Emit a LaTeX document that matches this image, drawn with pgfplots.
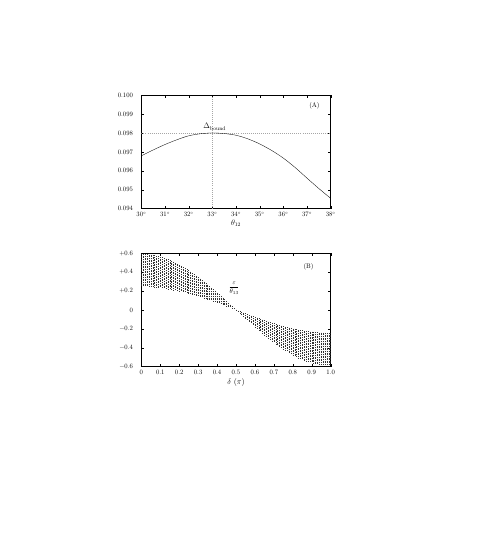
\documentclass[border=0pt]{standalone}
\usepackage{pgfplots}
\pgfplotsset{compat=1.18}
\begin{document}
\begin{tikzpicture}
\path[use as bounding box] (-212pt,142.8pt) rectangle (524.6pt,-674.7pt);
\pgfplotsset{every axis/.append style={scale only axis, width=284pt, height=170pt,
  tick align=inside, major tick length=4.5pt, axis line style={line width=0.5pt},
  every tick/.style={black, line width=0.4pt},
  yticklabel style={xshift=-9pt}, xticklabel style={yshift=-2pt},
  xlabel style={font=\large, yshift=2pt}}}
\begin{axis}[name=A, at={(0,0)}, anchor=north west,
  xmin=30, xmax=38, ymin=0.094, ymax=0.100,
  xtick={30,31,32,33,34,35,36,37,38},
  xticklabels={$30^\circ$,$31^\circ$,$32^\circ$,$33^\circ$,$34^\circ$,$35^\circ$,$36^\circ$,$37^\circ$,$38^\circ$},
  ytick={0.094,0.095,0.096,0.097,0.098,0.099,0.100},
  yticklabels={0.094,0.095,0.096,0.097,0.098,0.099,0.100},
  scaled y ticks=false,
  xlabel={$\theta_{12}$}]
\addplot[gray!70, line width=0.5pt, dash pattern=on 0.5pt off 2.6pt] coordinates {(33,0.094) (33,0.100)};
\addplot[gray!70, line width=0.5pt, dash pattern=on 0.5pt off 2.6pt] coordinates {(30,0.098) (38,0.098)};
\addplot[black, line width=0.5pt, smooth] coordinates {
(30.0,0.09679) (30.5,0.09710) (31.0,0.09739) (31.5,0.09764) (32.0,0.09785)
(32.5,0.09796) (33.0,0.09800) (33.5,0.09797) (34.0,0.09788) (34.5,0.09769)
(35.0,0.09742) (35.5,0.09708) (36.0,0.09667) (36.5,0.09617) (37.0,0.09561)
(37.5,0.09506) (38.0,0.09454)};
\node at (rel axis cs:0.914,0.905) {(A)};
\node[anchor=base, font=\large] at (axis cs:33.1,0.09822) {$\Delta_{\mathrm{bound}}$};
\end{axis}
\begin{axis}[name=B, at={(0,-237pt)}, anchor=north west,
  xmin=0, xmax=1, ymin=-0.6, ymax=0.6,
  xtick={0,0.1,0.2,0.3,0.4,0.5,0.6,0.7,0.8,0.9,1.0},
  xticklabels={0,0.1,0.2,0.3,0.4,0.5,0.6,0.7,0.8,0.9,1.0},
  ytick={-0.6,-0.4,-0.2,0,0.2,0.4,0.6},
  yticklabels={$-0.6$,$-0.4$,$-0.2$,$0$,$+0.2$,$+0.4$,$+0.6$},
  xlabel={$\delta\ (\pi)$}, unbounded coords=jump]
\addplot[black!80, line width=0.55pt, dash pattern=on 0.55pt off 1.9pt] table[row sep=\\] {
x y\\
0.00 0.590\\ 0.00 0.245\\ 0.00 nan\\
0.01 0.590\\ 0.01 0.245\\ 0.01 nan\\
0.02 0.589\\ 0.02 0.245\\ 0.02 nan\\
0.03 0.587\\ 0.03 0.244\\ 0.03 nan\\
0.04 0.585\\ 0.04 0.243\\ 0.04 nan\\
0.05 0.583\\ 0.05 0.242\\ 0.05 nan\\
0.06 0.580\\ 0.06 0.241\\ 0.06 nan\\
0.07 0.576\\ 0.07 0.239\\ 0.07 nan\\
0.08 0.571\\ 0.08 0.237\\ 0.08 nan\\
0.09 0.567\\ 0.09 0.235\\ 0.09 nan\\
0.10 0.561\\ 0.10 0.233\\ 0.10 nan\\
0.11 0.555\\ 0.11 0.231\\ 0.11 nan\\
0.12 0.549\\ 0.12 0.228\\ 0.12 nan\\
0.13 0.542\\ 0.13 0.225\\ 0.13 nan\\
0.14 0.534\\ 0.14 0.222\\ 0.14 nan\\
0.15 0.526\\ 0.15 0.218\\ 0.15 nan\\
0.16 0.517\\ 0.16 0.215\\ 0.16 nan\\
0.17 0.508\\ 0.17 0.211\\ 0.17 nan\\
0.18 0.498\\ 0.18 0.207\\ 0.18 nan\\
0.19 0.488\\ 0.19 0.203\\ 0.19 nan\\
0.20 0.477\\ 0.20 0.198\\ 0.20 nan\\
0.21 0.466\\ 0.21 0.194\\ 0.21 nan\\
0.22 0.455\\ 0.22 0.189\\ 0.22 nan\\
0.23 0.443\\ 0.23 0.184\\ 0.23 nan\\
0.24 0.430\\ 0.24 0.179\\ 0.24 nan\\
0.25 0.417\\ 0.25 0.173\\ 0.25 nan\\
0.26 0.404\\ 0.26 0.168\\ 0.26 nan\\
0.27 0.390\\ 0.27 0.162\\ 0.27 nan\\
0.28 0.376\\ 0.28 0.156\\ 0.28 nan\\
0.29 0.362\\ 0.29 0.150\\ 0.29 nan\\
0.30 0.347\\ 0.30 0.144\\ 0.30 nan\\
0.31 0.332\\ 0.31 0.138\\ 0.31 nan\\
0.32 0.316\\ 0.32 0.131\\ 0.32 nan\\
0.33 0.300\\ 0.33 0.125\\ 0.33 nan\\
0.34 0.284\\ 0.34 0.118\\ 0.34 nan\\
0.35 0.268\\ 0.35 0.111\\ 0.35 nan\\
0.36 0.251\\ 0.36 0.104\\ 0.36 nan\\
0.37 0.234\\ 0.37 0.097\\ 0.37 nan\\
0.38 0.217\\ 0.38 0.090\\ 0.38 nan\\
0.39 0.200\\ 0.39 0.083\\ 0.39 nan\\
0.40 0.182\\ 0.40 0.076\\ 0.40 nan\\
0.41 0.165\\ 0.41 0.068\\ 0.41 nan\\
0.42 0.147\\ 0.42 0.061\\ 0.42 nan\\
0.43 0.129\\ 0.43 0.053\\ 0.43 nan\\
0.44 0.111\\ 0.44 0.046\\ 0.44 nan\\
0.45 0.092\\ 0.45 0.038\\ 0.45 nan\\
0.46 0.074\\ 0.46 0.031\\ 0.46 nan\\
0.47 0.056\\ 0.47 0.023\\ 0.47 nan\\
0.48 0.037\\ 0.48 0.015\\ 0.48 nan\\
0.49 0.019\\ 0.49 0.008\\ 0.49 nan\\
0.50 0.003\\ 0.50 -0.003\\ 0.50 nan\\
0.51 -0.008\\ 0.51 -0.019\\ 0.51 nan\\
0.52 -0.015\\ 0.52 -0.037\\ 0.52 nan\\
0.53 -0.023\\ 0.53 -0.056\\ 0.53 nan\\
0.54 -0.031\\ 0.54 -0.074\\ 0.54 nan\\
0.55 -0.038\\ 0.55 -0.092\\ 0.55 nan\\
0.56 -0.046\\ 0.56 -0.111\\ 0.56 nan\\
0.57 -0.053\\ 0.57 -0.129\\ 0.57 nan\\
0.58 -0.061\\ 0.58 -0.147\\ 0.58 nan\\
0.59 -0.068\\ 0.59 -0.165\\ 0.59 nan\\
0.60 -0.076\\ 0.60 -0.182\\ 0.60 nan\\
0.61 -0.083\\ 0.61 -0.200\\ 0.61 nan\\
0.62 -0.090\\ 0.62 -0.217\\ 0.62 nan\\
0.63 -0.097\\ 0.63 -0.234\\ 0.63 nan\\
0.64 -0.104\\ 0.64 -0.251\\ 0.64 nan\\
0.65 -0.111\\ 0.65 -0.268\\ 0.65 nan\\
0.66 -0.118\\ 0.66 -0.284\\ 0.66 nan\\
0.67 -0.125\\ 0.67 -0.300\\ 0.67 nan\\
0.68 -0.131\\ 0.68 -0.316\\ 0.68 nan\\
0.69 -0.138\\ 0.69 -0.332\\ 0.69 nan\\
0.70 -0.144\\ 0.70 -0.347\\ 0.70 nan\\
0.71 -0.150\\ 0.71 -0.362\\ 0.71 nan\\
0.72 -0.156\\ 0.72 -0.376\\ 0.72 nan\\
0.73 -0.162\\ 0.73 -0.390\\ 0.73 nan\\
0.74 -0.168\\ 0.74 -0.404\\ 0.74 nan\\
0.75 -0.173\\ 0.75 -0.417\\ 0.75 nan\\
0.76 -0.179\\ 0.76 -0.430\\ 0.76 nan\\
0.77 -0.184\\ 0.77 -0.443\\ 0.77 nan\\
0.78 -0.189\\ 0.78 -0.455\\ 0.78 nan\\
0.79 -0.194\\ 0.79 -0.466\\ 0.79 nan\\
0.80 -0.198\\ 0.80 -0.477\\ 0.80 nan\\
0.81 -0.203\\ 0.81 -0.488\\ 0.81 nan\\
0.82 -0.207\\ 0.82 -0.498\\ 0.82 nan\\
0.83 -0.211\\ 0.83 -0.508\\ 0.83 nan\\
0.84 -0.215\\ 0.84 -0.517\\ 0.84 nan\\
0.85 -0.218\\ 0.85 -0.526\\ 0.85 nan\\
0.86 -0.222\\ 0.86 -0.534\\ 0.86 nan\\
0.87 -0.225\\ 0.87 -0.542\\ 0.87 nan\\
0.88 -0.228\\ 0.88 -0.549\\ 0.88 nan\\
0.89 -0.231\\ 0.89 -0.555\\ 0.89 nan\\
0.90 -0.233\\ 0.90 -0.561\\ 0.90 nan\\
0.91 -0.235\\ 0.91 -0.567\\ 0.91 nan\\
0.92 -0.237\\ 0.92 -0.571\\ 0.92 nan\\
0.93 -0.239\\ 0.93 -0.576\\ 0.93 nan\\
0.94 -0.241\\ 0.94 -0.580\\ 0.94 nan\\
0.95 -0.242\\ 0.95 -0.583\\ 0.95 nan\\
0.96 -0.243\\ 0.96 -0.585\\ 0.96 nan\\
0.97 -0.244\\ 0.97 -0.587\\ 0.97 nan\\
0.98 -0.245\\ 0.98 -0.589\\ 0.98 nan\\
0.99 -0.245\\ 0.99 -0.590\\ 0.99 nan\\
1.00 -0.245\\ 1.00 -0.590\\
};
\node at (rel axis cs:0.883,0.882) {(B)};
\node at (axis cs:0.49,0.235) {$\displaystyle\frac{\varepsilon}{\theta_{13}}$};
\end{axis}
\end{tikzpicture}
\end{document}
